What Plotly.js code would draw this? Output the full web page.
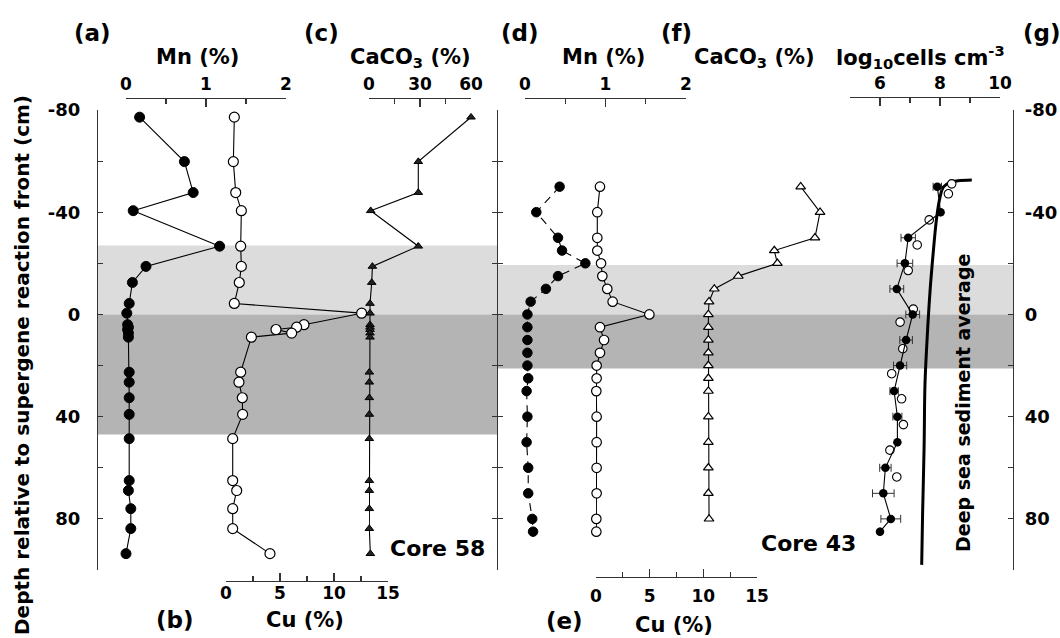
<!DOCTYPE html>
<html><head><meta charset="utf-8">
<script src="https://cdn.plot.ly/plotly-3.0.1.min.js"></script>
<style>html,body{margin:0;padding:0;background:#fff}</style>
</head><body><div id="chart" style="width:1060px;height:638px"></div>
<script>
// ---------- Core 58 ----------
const c58Depth = [-77.2, -59.8, -47.7, -40.6, -26.7, -18.8, -12.5, -4.3, -0.5, 4.0, 5.0, 5.9, 7.3, 8.9, 22.6, 26.5, 32.6, 39.1, 48.6, 65, 68.9, 76, 83.8, 93.6];
const c58Mn = [0.17, 0.73, 0.84, 0.09, 1.17, 0.25, 0.08, 0.04, 0.01, 0.02, 0.03, 0.02, 0.03, 0.03, 0.04, 0.04, 0.04, 0.04, 0.04, 0.04, 0.03, 0.06, 0.06, 0.0];
const c58Cu = [0.77, 0.68, 0.9, 1.42, 1.36, 1.42, 1.23, 0.77, 12.56, 7.22, 6.54, 4.63, 6.08, 2.35, 1.36, 1.2, 1.51, 1.54, 0.62, 0.62, 0.99, 0.62, 0.62, 4.07];
const c58CaCO3 = [60, 29, 29, 1, 29, 2, 1.6, 0.6, 0.6, 0.6, 0.6, 0.6, 0.6, 0.6, 0.2, 0.2, 0.2, 0.2, 0.2, 0.2, 0.2, 0.2, 0.2, 0.8];
const c58Light = [-27, 0];
const c58Dark = [0, 47];

// ---------- Core 43 ----------
const c43Depth = [-50, -40, -30, -25, -20, -15, -10, -5, 0, 5, 10, 15, 20, 25, 30, 40, 50, 60, 70, 80, 85];
const c43Mn = [0.43, 0.14, 0.41, 0.46, 0.75, 0.41, 0.26, 0.07, 0.03, 0.03, 0.03, 0.03, 0.03, 0.04, 0.02, 0.03, 0.02, 0.04, 0.04, 0.09, 0.1];
const c43Cu = [0.37, 0.12, 0.12, 0.12, 0.47, 0.59, 1.05, 1.55, 4.97, 0.37, 0.75, 0.37, 0.06, 0.06, 0.03, 0.06, 0.06, 0.06, 0.06, 0.03, 0.03];
const c43CaCO3 = [55.1, 66.5, 63.5, 39.6, 41.4, 18.4, 4.3, 1.2, 0.8, 0.8, 0.8, 0.8, 0.8, 0.8, 0.8, 0.8, 0.8, 0.8, 0.8, 1.2, null];
const c43Light = [-19.3, 0];
const c43Dark = [0, 21.2];

// ---------- Cell counts (g) ----------
const cellDepth = [-50, -40, -30, -20, -10, 0, 10, 20, 30, 40, 50, 60, 70, 80, 85];
const cellLog = [7.91, 8.02, 6.94, 6.83, 6.56, 7.09, 6.87, 6.67, 6.47, 6.58, 6.58, 6.18, 6.11, 6.36, 6.0];
const cellErr = [0.14, 0.0, 0.24, 0.26, 0.23, 0.23, 0.21, 0.22, 0.14, 0.15, 0.0, 0.19, 0.36, 0.33, 0.0];
const cellOpenDepth = [-51.1, -47.2, -37.0, -27.2, -17.2, -2.1, 3.0, 13.4, 23.2, 33.0, 43.1, 53.1, 63.6];
const cellOpenLog = [8.39, 8.28, 7.64, 7.24, 6.94, 7.11, 6.67, 6.76, 6.39, 6.72, 6.78, 6.33, 6.56];
const deepDepth = [-52.6, -52.3, -51.7, -49.8, -45.8, -38.0, -25.0, -9.4, 7.5, 27.1, 51.8, 77.9, 98.0];
const deepLog = [9.06, 8.6, 8.33, 8.11, 8.0, 7.89, 7.78, 7.67, 7.58, 7.5, 7.47, 7.42, 7.39];

// ---------- Ticks ----------
const depthMajor = [-80, -40, 0, 40, 80];
const depthMajorText = ['-80', '-40', '0', '40', '80'];
const depthMinor = [-60, -20, 20, 60, 100];
const depthAll = [-80, -60, -40, -20, 0, 20, 40, 60, 80, 100];
const mnMajor = [0, 1, 2];
const mnMinor = [0.5, 1.5];
const cuMajor = [0, 5, 10, 15];
const cuMinor = [2.5, 7.5, 12.5];
const caMajor = [0, 30, 60];
const caMinor = [15, 45];
const cellMajor = [6, 8, 10];
const cellMinor = [5, 7, 9];

// ---------- layout helpers ----------
const W = 1060, H = 638;
const px = v => v / W;
const py = v => 1 - v / H;
const FONT = 'DejaVu Sans, Verdana, sans-serif';
const tickFont = {family: FONT, size: 17, color: '#000', weight: 'bold'};
const depthFont = {family: FONT, size: 18, color: '#000', weight: 'bold'};
const Y_DOM = [py(570), py(110)];
const Y_RANGE = [100, -80];
const AX = '#333';

function xAx(d0, d1, side, pos, range, major, minor, standoff) {
  return {domain: [px(d0), px(d1)], range: range, anchor: 'free', position: py(pos), side: side,
    showline: true, linecolor: AX, linewidth: 1.2, ticks: 'inside', ticklen: 8, tickwidth: 1.2, tickcolor: AX,
    tickmode: 'array', tickvals: major, ticktext: major.map(String), tickfont: tickFont,
    minor: {tickmode: 'array', tickvals: minor, ticks: 'inside', ticklen: 5, tickwidth: 1.2, tickcolor: AX, showgrid: false},
    showgrid: false, zeroline: false, ticklabelstandoff: standoff, fixedrange: true};
}
function yAx(pos, side, labels, extra) {
  const base = {domain: Y_DOM, range: Y_RANGE, anchor: 'free', position: pos, side: side,
    showline: true, linecolor: AX, linewidth: 1.2, ticks: 'inside', ticklen: 5, tickwidth: 1.2, tickcolor: AX,
    showgrid: false, zeroline: false, fixedrange: true};
  if (labels) {
    Object.assign(base, {tickmode: 'array', tickvals: depthMajor, ticktext: depthMajorText, tickfont: depthFont,
      minor: {tickmode: 'array', tickvals: depthMinor, ticks: 'inside', ticklen: 5, tickwidth: 1.2, tickcolor: AX, showgrid: false}});
  } else {
    Object.assign(base, {tickmode: 'array', tickvals: depthAll, showticklabels: false});
  }
  return Object.assign(base, extra || {});
}

const lineBlack = {color: '#000', width: 1.1};
const filledCircle = {symbol: 'circle', size: 10, color: '#000', line: {color: '#000', width: 1}};
const openCircle = {symbol: 'circle', size: 10, color: '#fff', line: {color: '#000', width: 1.2}};
const filledCircle43 = {symbol: 'circle', size: 9.5, color: '#000', line: {color: '#000', width: 1}};
const openCircle43 = {symbol: 'circle', size: 9.5, color: '#fff', line: {color: '#000', width: 1.2}};
const filledTri = {symbol: 'triangle-up', size: 7.5, color: '#222', line: {color: '#000', width: 1}};
const openTri = {symbol: 'triangle-up', size: 8.5, color: '#fff', line: {color: '#000', width: 1.2}};

const traces = [
  {x: c58Mn, y: c58Depth, xaxis: 'x', yaxis: 'y', mode: 'lines+markers', line: lineBlack, marker: filledCircle, cliponaxis: false},
  {x: c58Cu, y: c58Depth, xaxis: 'x2', yaxis: 'y', mode: 'lines+markers', line: lineBlack, marker: openCircle, cliponaxis: false},
  {x: c58CaCO3, y: c58Depth, xaxis: 'x3', yaxis: 'y4', mode: 'lines+markers', line: lineBlack, marker: filledTri, cliponaxis: false},
  {x: c43Mn, y: c43Depth, xaxis: 'x4', yaxis: 'y3', mode: 'lines+markers', line: {color: '#000', width: 1.1, dash: '8px,6px'}, marker: filledCircle43, cliponaxis: false},
  {x: c43Cu, y: c43Depth, xaxis: 'x5', yaxis: 'y3', mode: 'lines+markers', line: lineBlack, marker: openCircle43, cliponaxis: false},
  {x: c43CaCO3, y: c43Depth, xaxis: 'x8', yaxis: 'y3', mode: 'lines+markers', line: lineBlack, marker: openTri, cliponaxis: false},
  {x: deepLog, y: deepDepth, xaxis: 'x7', yaxis: 'y2', mode: 'lines', line: {color: '#000', width: 3, shape: 'spline'}, cliponaxis: false},
  {x: cellOpenLog, y: cellOpenDepth, xaxis: 'x7', yaxis: 'y2', mode: 'markers', marker: {symbol: 'circle', size: 8.5, color: '#fff', line: {color: '#000', width: 1.1}}, cliponaxis: false},
  {x: cellLog, y: cellDepth, xaxis: 'x7', yaxis: 'y2', mode: 'lines+markers', line: lineBlack,
   marker: {symbol: 'circle', size: 8.5, color: '#000'}, cliponaxis: false,
   error_x: {type: 'data', array: cellErr, visible: true, color: '#333', thickness: 1, width: 4}}
];

function zone(x0, x1, ys, col) {
  return {type: 'rect', xref: 'paper', yref: 'y', x0: px(x0), x1: px(x1), y0: ys[0], y1: ys[1],
    fillcolor: col, line: {width: 0}, layer: 'below'};
}
function ann(text, x, y, size, extra) {
  return Object.assign({text: text, xref: 'paper', yref: 'paper', x: px(x), y: py(y), xanchor: 'center', yanchor: 'middle',
    showarrow: false, font: {family: FONT, size: size, color: '#000', weight: 'bold'}}, extra || {});
}

const layout = {
  width: W, height: H, autosize: false,
  margin: {l: 0, r: 0, t: 0, b: 0, pad: 0},
  paper_bgcolor: '#fff', plot_bgcolor: 'rgba(0,0,0,0)',
  showlegend: false,
  xaxis: xAx(126, 286, 'top', 98, [0, 2], mnMajor, mnMinor, 1),
  xaxis2: xAx(226, 388, 'bottom', 581, [0, 15], cuMajor, cuMinor, -4),
  xaxis3: xAx(369, 471, 'top', 98, [0, 60], caMajor, caMinor, 1),
  xaxis4: xAx(525, 686, 'top', 98, [0, 2], mnMajor, mnMinor, 1),
  xaxis5: xAx(596, 757, 'bottom', 577, [0, 15], cuMajor, cuMinor, 3),
  xaxis6: xAx(707, 809, 'top', 98, [0, 60], caMajor, caMinor, 1),
  xaxis7: xAx(850, 1000, 'top', 97, [5, 10], cellMajor, cellMinor, 1),
  xaxis8: {domain: [px(707), px(843)], range: [0, 80], visible: false, anchor: 'y3', fixedrange: true},
  yaxis: yAx(px(97), 'left', true, {ticklabelstandoff: 13}),
  yaxis2: yAx(px(1013), 'right', true, {ticklabelstandoff: 7}),
  yaxis3: yAx(px(497), 'left', false),
  yaxis4: yAx(px(497), 'right', false),
  shapes: [
    zone(97, 497, c58Light, '#dcdcdc'),
    zone(97, 497, c58Dark, '#b4b4b4'),
    zone(497, 1013, c43Light, '#dcdcdc'),
    zone(497, 1013, c43Dark, '#b4b4b4')
  ],
  annotations: [
    ann('(a)', 92, 33, 23),
    ann('Mn (%)', 198, 57, 21),
    ann('(c)', 321, 33, 23),
    ann('CaCO<sub>3</sub> (%)', 410, 58, 21),
    ann('(d)', 520, 33, 23),
    ann('Mn (%)', 603, 57, 21),
    ann('(f)', 676, 33, 23),
    ann('CaCO<sub>3</sub> (%)', 754, 58, 21),
    ann('log<sub>10</sub>cells cm<sup>-3</sup>', 920, 57, 21),
    ann('(g)', 1042, 33, 23),
    ann('(b)', 175, 620, 23),
    ann('Cu (%)', 305, 620, 21),
    ann('(e)', 564, 621, 23),
    ann('Cu (%)', 674, 625, 21),
    ann('Core 58', 437, 548, 22),
    ann('Core 43', 808, 543, 22),
    ann('Deep sea sediment average', 963, 403, 19, {textangle: -90}),
    ann('Depth relative to supergene reaction front (cm)', 22, 365, 20, {textangle: -90})
  ]
};

Plotly.newPlot('chart', traces, layout, {staticPlot: true, displayModeBar: false});
</script></body></html>
